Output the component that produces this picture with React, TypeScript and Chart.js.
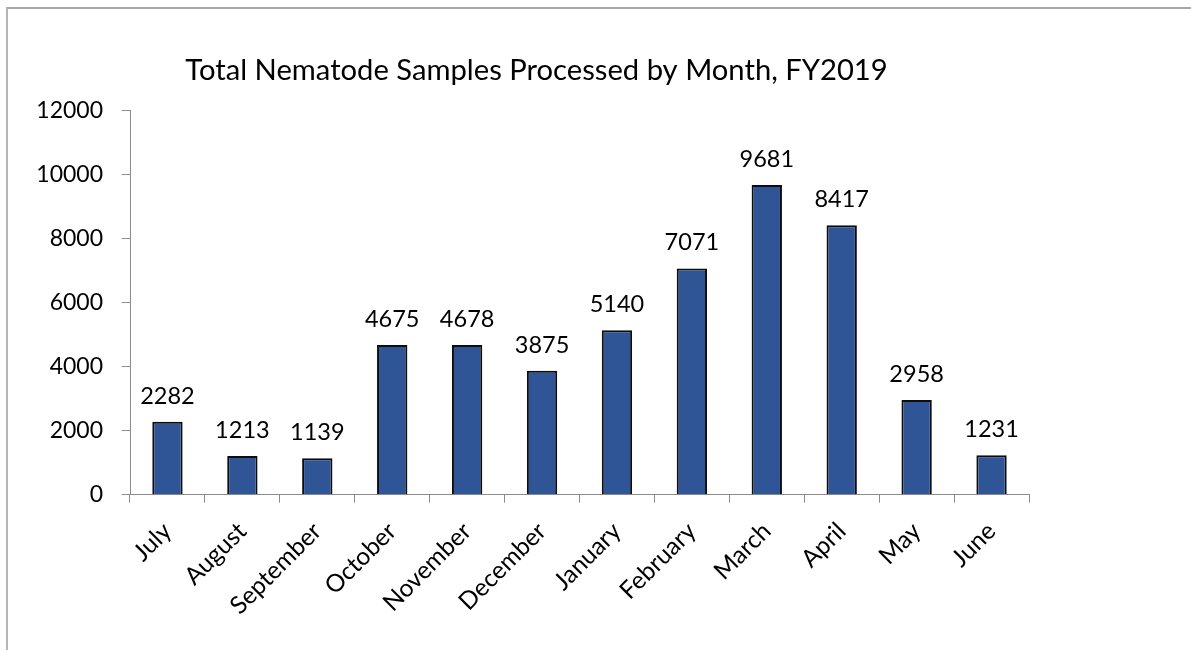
import React, { useEffect, useRef } from "react";
import { Chart, registerables } from "chart.js";

Chart.register(...registerables);

const chartTitle = "Total Nematode Samples Processed by Month, FY2019";
const months = [
  "July",
  "August",
  "September",
  "October",
  "November",
  "December",
  "January",
  "February",
  "March",
  "April",
  "May",
  "June",
];
const samples = [2282, 1213, 1139, 4675, 4678, 3875, 5140, 7071, 9681, 8417, 2958, 1231];
const yMin = 0;
const yMax = 12000;
const yStep = 2000;

const FONT = "Lato, 'Open Sans', sans-serif";
const AXIS_GREY = "#8c8c8c";

const titlePlugin = {
  id: "customTitle",
  afterDraw(chart: any) {
    const ctx = chart.ctx;
    ctx.save();
    ctx.font = `29.2px ${FONT}`;
    ctx.fillStyle = "#000";
    ctx.textAlign = "center";
    ctx.textBaseline = "alphabetic";
    ctx.fillText(chartTitle, 536.5, 80);
    ctx.restore();
  },
};

const valueLabelPlugin = {
  id: "valueLabels",
  afterDatasetsDraw(chart: any) {
    const ctx = chart.ctx;
    const meta = chart.getDatasetMeta(0);
    ctx.save();
    ctx.font = `23.5px ${FONT}`;
    ctx.fillStyle = "#000";
    ctx.textAlign = "center";
    ctx.textBaseline = "alphabetic";
    meta.data.forEach((bar: any, i: number) => {
      ctx.fillText(String(samples[i]), bar.x, bar.y - 18);
    });
    ctx.restore();
  },
};

export default function App() {
  const canvasRef = useRef<HTMLCanvasElement | null>(null);

  useEffect(() => {
    if (!canvasRef.current) return;
    const chart = new Chart(canvasRef.current, {
      type: "bar",
      data: {
        labels: months,
        datasets: [
          {
            data: samples,
            backgroundColor: "#2f5597",
            borderColor: "#0d0d0d",
            borderWidth: 2,
            barPercentage: 1,
            categoryPercentage: 0.405,
          },
        ],
      },
      options: {
        responsive: false,
        animation: false,
        devicePixelRatio: 1,
        layout: {
          padding: { left: 0, right: 162, top: 110.7, bottom: 35.3 },
        },
        plugins: {
          legend: { display: false },
          tooltip: { enabled: false },
          title: { display: false },
        },
        scales: {
          x: {
            grid: {
              offset: true,
              drawOnChartArea: false,
              drawTicks: true,
              tickLength: 8,
              color: AXIS_GREY,
              lineWidth: 1,
            },
            border: { color: AXIS_GREY, width: 1 },
            ticks: {
              autoSkip: false,
              minRotation: 45,
              maxRotation: 45,
              padding: 14,
              color: "#000",
              font: { family: FONT, size: 24.5 },
            },
            afterFit: (s: any) => {
              s.height = 120;
            },
          },
          y: {
            min: yMin,
            max: yMax,
            grid: {
              drawOnChartArea: false,
              drawTicks: true,
              tickLength: 8,
              color: AXIS_GREY,
              lineWidth: 1,
            },
            border: { color: AXIS_GREY, width: 1 },
            ticks: {
              stepSize: yStep,
              padding: 19,
              color: "#000",
              font: { family: FONT, size: 23 },
              callback: (v: any) => String(v),
            },
            afterFit: (s: any) => {
              s.width = 130;
            },
          },
        },
      },
      plugins: [titlePlugin, valueLabelPlugin],
    } as any);
    return () => chart.destroy();
  }, []);

  return (
    <div
      style={{
        position: "absolute",
        left: 0,
        top: 0,
        width: 1191,
        height: 650,
        overflow: "hidden",
        background: "#fff",
      }}
    >
      <div
        style={{
          position: "absolute",
          left: 6,
          top: 7,
          width: 1300,
          height: 800,
          borderLeft: "2px solid #b5b5b5",
          borderTop: "2px solid #a8a8a8",
        }}
      />
      <canvas
        ref={canvasRef}
        width={1191}
        height={650}
        style={{ position: "absolute", left: 0, top: 0, width: 1191, height: 650 }}
      />
    </div>
  );
}
